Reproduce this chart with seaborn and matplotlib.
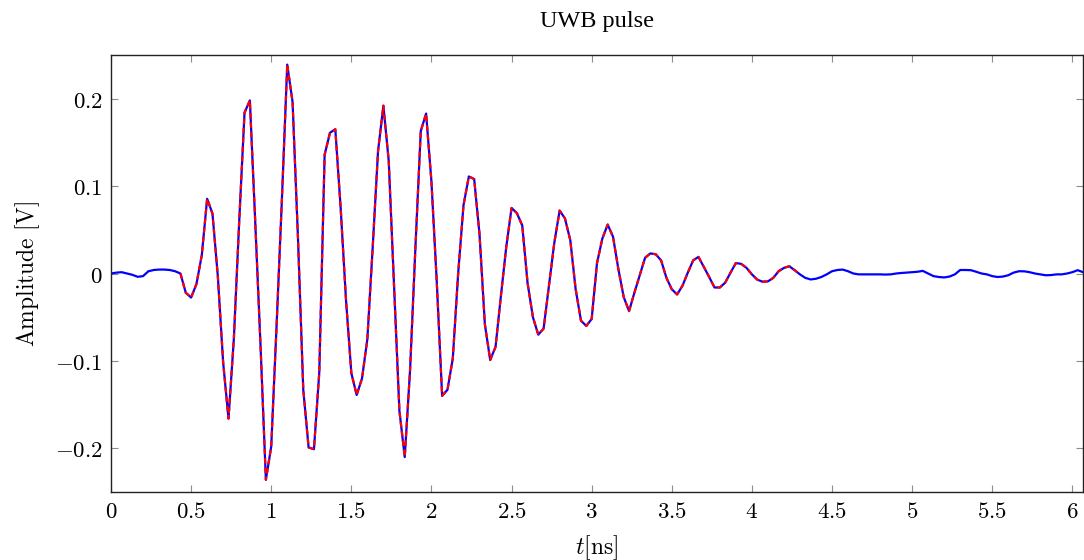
import numpy as np
import pandas as pd
import matplotlib
matplotlib.use("Agg")
import matplotlib.pyplot as plt
import seaborn as sns

# ---------------- data ----------------
sample_rate_gsps = 30  # samples per ns
amplitude_v = [
    0.000, 0.001, 0.0015, 0.000, -0.0015, -0.0038, -0.003, 0.0026, 0.004, 0.0045,
    0.0045, 0.004, 0.0026, 0.000, -0.022, -0.0275, -0.012, 0.021, 0.0855, 0.0685,
    -0.003, -0.102, -0.166, -0.075, 0.059, 0.184, 0.198, 0.060, -0.083, -0.236,
    -0.198, -0.060, 0.085, 0.239, 0.196, 0.042, -0.133, -0.199, -0.201, -0.113,
    0.136, 0.161, 0.165, 0.075, -0.030, -0.114, -0.139, -0.120, -0.075, 0.030,
    0.140, 0.192, 0.129, -0.015, -0.157, -0.210, -0.110, 0.030, 0.163, 0.183,
    0.105, -0.010, -0.140, -0.133, -0.097, 0.000, 0.078, 0.111, 0.108, 0.045,
    -0.058, -0.099, -0.084, -0.026, 0.030, 0.075, 0.069, 0.055, -0.011, -0.050,
    -0.070, -0.063, -0.014, 0.035, 0.072, 0.063, 0.038, -0.018, -0.054, -0.060,
    -0.052, 0.012, 0.040, 0.056, 0.042, 0.005, -0.027, -0.043, -0.022, -0.002,
    0.018, 0.023, 0.022, 0.015, -0.005, -0.018, -0.024, -0.014, 0.001, 0.015,
    0.019, 0.0075, -0.004, -0.016, -0.016, -0.0105, 0.001, 0.012, 0.011, 0.0064,
    -0.001, -0.007, -0.0094, -0.009, -0.005, 0.0026, 0.0064, 0.0083, 0.0038, -0.001,
    -0.005, -0.0068, -0.006, -0.004, -0.001, 0.0026, 0.004, 0.0045, 0.0026, 0.000,
    -0.001, -0.001, -0.001, -0.001, -0.001, -0.0012, -0.001, 0.000, 0.0006, 0.001,
    0.0015, 0.002, 0.003, 0.000, -0.003, -0.004, -0.0045, -0.0035, -0.001, 0.004,
    0.004, 0.0038, 0.002, 0.000, -0.001, -0.003, -0.004, -0.0035, -0.002, 0.001,
    0.0026, 0.0025, 0.0015, 0.000, -0.001, -0.002, -0.0018, -0.001, -0.001, 0.000,
    0.0015, 0.0038, 0.0015,
]
window_start, window_stop = 13, 130   # samples overlaid by the red dashed trace

xticks = [0, 0.5, 1, 1.5, 2, 2.5, 3, 3.5, 4, 4.5, 5, 5.5, 6]
xtick_labels = ["0", "0.5", "1", "1.5", "2", "2.5", "3", "3.5", "4", "4.5", "5", "5.5", "6"]
yticks = [-0.2, -0.1, 0, 0.1, 0.2]
ytick_labels = ["-0.2", "-0.1", "0", "0.1", "0.2"]

title = "UWB pulse"
xlabel = r"$t[\mathrm{ns}]$"
ylabel = r"$\mathrm{Amplitude\ [V]}$"

# ---------------- figure ----------------
sns.set_style("ticks")
plt.rcParams["mathtext.fontset"] = "cm"
plt.rcParams["font.family"] = ["DejaVu Sans"]
plt.rcParams["text.color"] = "black"
plt.rcParams["axes.labelcolor"] = "black"

t = np.arange(len(amplitude_v)) / sample_rate_gsps
df = pd.DataFrame({"t": t, "amp": amplitude_v})
df_win = df.iloc[window_start:window_stop]

fig, ax = plt.subplots(figsize=(10.84, 5.60), dpi=100)
fig.subplots_adjust(left=0.1024, right=0.9991, bottom=0.1214, top=0.9018)

sns.lineplot(data=df, x="t", y="amp", ax=ax, color="#0000ff", lw=1.6,
             estimator=None, sort=False, zorder=2)
sns.lineplot(data=df_win, x="t", y="amp", ax=ax, color="#ff0000", lw=1.6,
             estimator=None, sort=False, zorder=3)
ax.lines[-1].set_dashes((2.5, 1.7))

ax.set_xlim(0, (len(amplitude_v) - 1) / sample_rate_gsps)
ax.set_ylim(-0.25, 0.25)

ax.set_xticks(xticks)
ax.set_xticklabels([f"${s}$" for s in xtick_labels])
ax.set_yticks(yticks)
ax.set_yticklabels([f"${s}$" for s in ytick_labels])
ax.tick_params(direction="in", length=5, width=0.8, color="#8c8c8c",
               top=True, right=True, labelsize=16.5, pad=6, labelcolor="black")
for sp in ax.spines.values():
    sp.set_color("#222222")
    sp.set_linewidth(1.0)

ax.set_xlabel(xlabel, fontsize=17, labelpad=7, color="black")
ax.set_ylabel(ylabel, fontsize=17, labelpad=9, color="black")
ax.set_title(title, family="Liberation Serif", fontsize=17.5, pad=20, color="black")

fig.savefig("out.png", dpi=100)
